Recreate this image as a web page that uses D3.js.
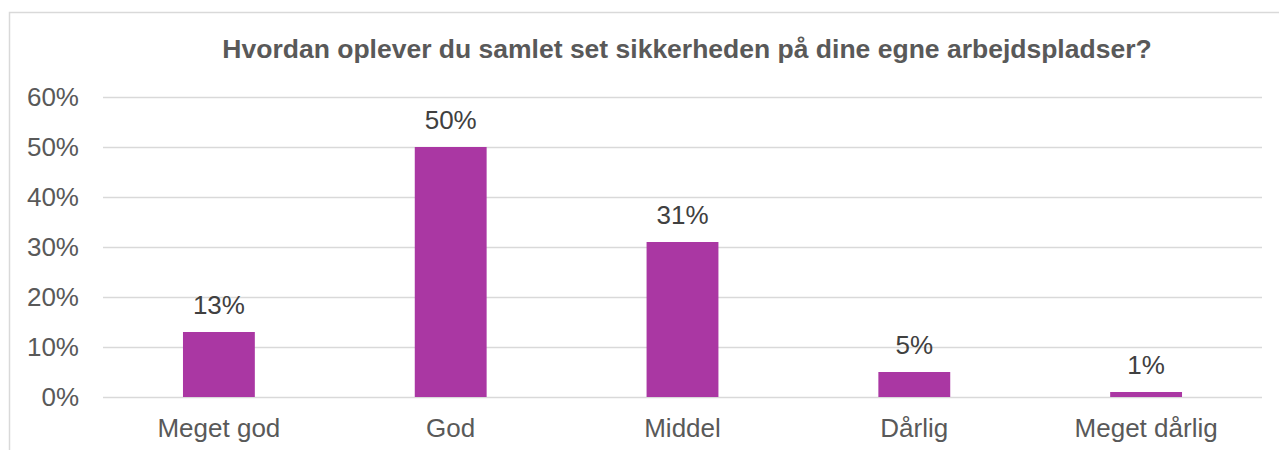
<!DOCTYPE html>
<html>
<head>
<meta charset="utf-8" />
<title>Sikkerhed</title>
<script src="https://cdn.jsdelivr.net/npm/d3@7"></script>
<style>
  body { margin: 0; background: #fff; }
  text { font-family: "Liberation Sans", Arial, sans-serif; }
</style>
</head>
<body>
<div id="chart"></div>
<script>
var title = "Hvordan oplever du samlet set sikkerheden på dine egne arbejdspladser?";
var categories = ["Meget god", "God", "Middel", "Dårlig", "Meget dårlig"];
var values = [0.13, 0.50, 0.31, 0.05, 0.01];
var yTicks = [0, 0.1, 0.2, 0.3, 0.4, 0.5, 0.6];

var W = 1279, H = 450;
var margin = { top: 97, right: 17, bottom: 53, left: 103 },
    width = W - margin.left - margin.right,
    height = H - margin.top - margin.bottom;

var svg = d3.select("#chart").append("svg")
    .attr("width", W)
    .attr("height", H);

// chart frame
svg.append("rect")
    .attr("x", 9.5).attr("y", 12.5)
    .attr("width", W + 20).attr("height", H + 20)
    .attr("fill", "#fff")
    .attr("stroke", "#d9d9d9")
    .attr("stroke-width", 1.5);

svg.append("text")
    .attr("x", 687).attr("y", 58)
    .attr("text-anchor", "middle")
    .attr("font-size", "26.5px")
    .attr("font-weight", "bold")
    .attr("fill", "#595959")
    .text(title);

var g = svg.append("g")
    .attr("transform", "translate(" + margin.left + "," + margin.top + ")");

var x = d3.scaleBand()
    .domain(categories)
    .range([0, width])
    .paddingInner(0.69)
    .paddingOuter(0.345);

var y = d3.scaleLinear()
    .domain([0, 0.6])
    .range([height, 0]);

// gridlines + tick labels
var yAxis = g.append("g")
    .call(d3.axisLeft(y).tickValues(yTicks).tickSize(-width).tickPadding(24)
        .tickFormat(d3.format(".0%")));
yAxis.select(".domain").remove();
yAxis.selectAll(".tick line").attr("stroke", "#d9d9d9").attr("stroke-width", 1.5);
yAxis.selectAll(".tick text")
    .attr("font-size", "26px")
    .attr("fill", "#595959")
    .attr("font-family", "Liberation Sans, Arial, sans-serif");

g.selectAll(".bar")
    .data(values)
    .enter().append("rect")
    .attr("class", "bar")
    .attr("x", function (d, i) { return x(categories[i]); })
    .attr("y", function (d) { return y(d); })
    .attr("width", x.bandwidth())
    .attr("height", function (d) { return y(0) - y(d); })
    .attr("fill", "#aa37a3");

g.selectAll(".val")
    .data(values)
    .enter().append("text")
    .attr("class", "val")
    .attr("x", function (d, i) { return x(categories[i]) + x.bandwidth() / 2; })
    .attr("y", function (d) { return y(d) - 18; })
    .attr("text-anchor", "middle")
    .attr("font-size", "26px")
    .attr("fill", "#404040")
    .text(function (d) { return Math.round(d * 100) + "%"; });

// category axis
var xAxis = g.append("g")
    .attr("transform", "translate(0," + height + ")")
    .call(d3.axisBottom(x).tickSize(0).tickPadding(22));
xAxis.select(".domain").remove();
xAxis.selectAll(".tick text")
    .attr("font-size", "26px")
    .attr("fill", "#595959")
    .attr("font-family", "Liberation Sans, Arial, sans-serif");
</script>
</body>
</html>
